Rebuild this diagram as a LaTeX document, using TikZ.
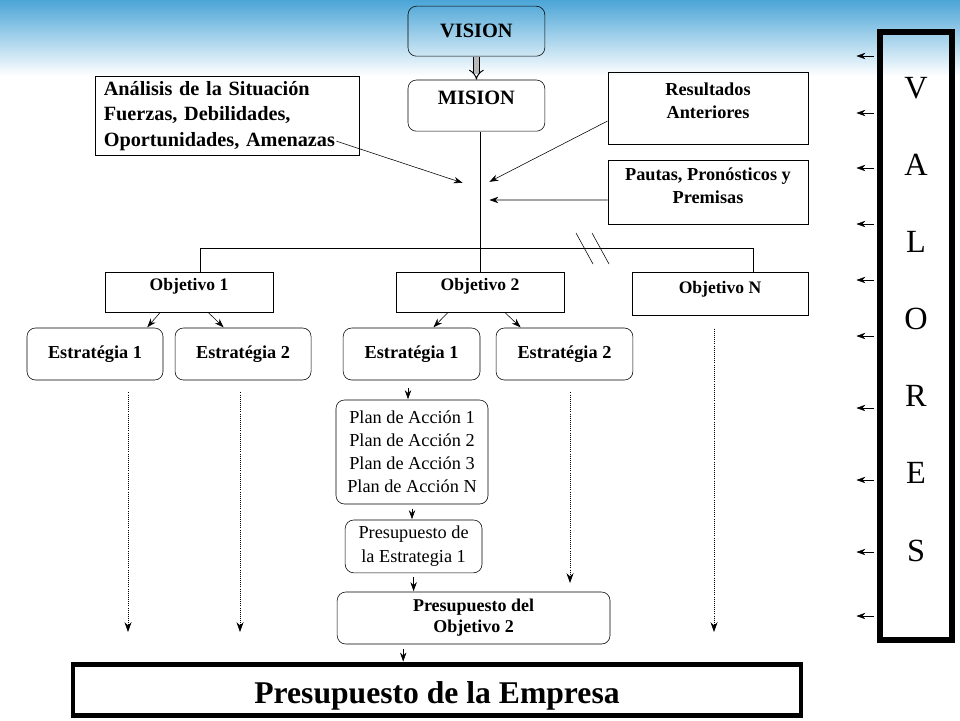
\documentclass[tikz,border=0pt]{standalone}
\usepackage{fontspec}
\setmainfont{Liberation Serif}
\usetikzlibrary{arrows.meta, positioning}
\definecolor{skytop}{RGB}{75,165,215}
\definecolor{skymid}{RGB}{178,216,238}

\begin{document}
\begin{tikzpicture}
	\tikzset{>={Stealth[length=7pt,width=5pt]}, line width=0.6pt,
		box/.style={draw, rectangle, align=center, font=\bfseries\fontsize{13}{16.3}\selectfont},
		rbox/.style={box, rounded corners=6pt},
		tpos/.style 2 args={inner ysep=0pt, text height=#1, text depth=#2},
		obj/.style={box, minimum width=4.2cm, minimum height=1cm, tpos={0.45cm}{0.55cm}, font=\bfseries\fontsize{12.5}{15}\selectfont},
		estr/.style={rbox, minimum width=3.4cm, minimum height=1.3cm},
		dots/.style={->, densely dotted, line width=0.5pt},
		plain/.style={font=\fontsize{13}{16.3}\selectfont}}

	\shade[top color=skytop, middle color=skymid, bottom color=white] (0,0) rectangle (24,-1.9);
	\useasboundingbox (0,0) rectangle (24,-18);

	\node[rbox, minimum width=3.42cm, minimum height=1.25cm, font=\bfseries\fontsize{14.5}{17}\selectfont] (vision) at (11.91,-0.78) {VISION};
	\node[rbox, minimum width=3.42cm, minimum height=1.28cm, tpos={0.6cm}{0.68cm}, font=\bfseries\fontsize{14.5}{17}\selectfont] (mision) at (11.91,-2.64) {MISION};
	\node[box, minimum width=6.6cm, minimum height=1.8cm, text width=6.16cm, align=left, font=\bfseries\fontsize{14.4}{18.4}\selectfont] (analisis) at (5.675,-2.9) {Análisis de la Situación\\Fuerzas, Debilidades,\\Oportunidades, Amenazas};
	\node[box, minimum width=5cm, minimum height=1.8cm, tpos={1.15cm}{0.65cm}] (resultados) at (17.7,-2.7) {Resultados\\Anteriores};
	\node[box, minimum width=5cm, minimum height=1.6cm, tpos={1.075cm}{0.525cm}] (pautas) at (17.7,-4.8) {Pautas, Pronósticos y\\Premisas};

	\node[obj] (obj1) at (4.725,-7.3) {Objetivo 1};
	\node[obj] (obj2) at (12,-7.3) {Objetivo 2};
	\node[obj, minimum width=4.4cm, minimum height=1.075cm, tpos={0.525cm}{0.55cm}] (objN) at (18,-7.34) {Objetivo N};

	\node[estr] (est1a) at (2.375,-8.85) {Estratégia 1};
	\node[estr, right=0.28cm of est1a] (est2a) {Estratégia 2};
	\node[estr, minimum width=3.42cm] (est1b) at (10.29,-8.85) {Estratégia 1};
	\node[estr, minimum width=3.42cm, right=0.38cm of est1b] (est2b) {Estratégia 2};

	\node[rbox, plain, minimum width=3.8cm, minimum height=2.6cm] (plan) at (10.3,-11.3) {Plan de Acción 1\\Plan de Acción 2\\Plan de Acción 3\\Plan de Acción N};
	\node[rbox, font=\fontsize{13}{17}\selectfont, minimum width=3.42cm, minimum height=1.32cm] (presest) at (10.34,-13.66) {Presupuesto de\\la Estrategia 1};
	\node[rbox, font=\bfseries\fontsize{12.8}{15}\selectfont, minimum width=6.82cm, minimum height=1.3cm] (presobj) at (11.84,-15.45) {Presupuesto del\\Objetivo 2};
	\node[draw, line width=3.5pt, minimum width=18.2cm, minimum height=1.28cm, tpos={0.97cm}{0.31cm}, font=\bfseries\fontsize{22.5}{26}\selectfont] (empresa) at (10.925,-17.25) {Presupuesto de la Empresa};
	\node[draw, line width=4.25pt, minimum width=1.8cm, minimum height=15.2cm, align=center, tpos={13.225cm}{1.975cm}, font=\fontsize{23}{54.8}\selectfont] (valores) at (22.9,-8.4) {V\\A\\L\\O\\R\\E\\S};

	% free ends
	\coordinate (inA) at (11.575,-4.575);
	\coordinate (inR) at (12.225,-4.55);
	\coordinate (inP) at (12.225,-5.0);
	\coordinate (b1) at (5.0,-6.2);
	\coordinate (bN) at (18.825,-6.2);
	\coordinate (d1) at (3.2,-15.8);
	\coordinate (d2) at (6.0,-15.8);
	\coordinate (d3) at (14.25,-14.575);
	\coordinate (d4) at (17.85,-15.8);

	\draw[draw=black, double=gray!55, double distance=3pt, line width=0.7pt, -{Implies}] (vision) -- (mision);
	\draw[->] ([xshift=-0.575cm,yshift=0.375cm]analisis.south east) -- (inA);
	\draw[->] ([yshift=-0.325cm]resultados.west) -- (inR);
	\draw[->] ([yshift=-0.2cm]pautas.west) -- (inP);

	\draw (mision.south -| obj2.north) -- (obj2.north);
	\draw (b1 |- obj1.north) -- (b1) -- (bN) -- (bN |- objN.north);
	\draw (14.4,-5.825) -- (14.825,-6.6);
	\draw (14.8,-5.825) -- (15.225,-6.6);

	\draw[->] ([xshift=-0.72cm]obj1.south) -- ([xshift=1.3cm]est1a.north);
	\draw[->] ([xshift=0.48cm]obj1.south) -- ([xshift=-0.48cm]est2a.north);
	\draw[->] ([xshift=-0.8cm]obj2.south) -- ([xshift=0.54cm]est1b.north);
	\draw[->] ([xshift=0.62cm]obj2.south) -- ([xshift=-1.09cm]est2b.north);

	\draw[->, shorten <=0.2cm] ([xshift=-0.09cm]est1b.south) -- ([xshift=-0.1cm]plan.north);
	\draw[->, shorten <=3pt] (plan.south) -- (plan.south |- presest.north);
	\draw[->, shorten <=3pt] (presest.south) -- (presest.south |- presobj.north);
	\draw[->, shorten <=3pt] ([xshift=-1.76cm]presobj.south) -- ([xshift=-1.76cm]presobj.south |- empresa.north);

	\draw[dots, shorten <=0.3cm] (est1a.south -| d1) -- (d1);
	\draw[dots, shorten <=0.3cm] (est2a.south -| d2) -- (d2);
	\draw[dots, shorten <=0.3cm] (est2b.south -| d3) -- (d3);
	\draw[dots, shorten <=0.33cm] (objN.south -| d4) -- (d4);

	\foreach \y in {1.4,2.825,4.2,5.6,7.0,8.4,10.2,12.0,13.8,15.4} {
		\coordinate (vt) at (21.4,-\y);
		\draw[->, shorten <=2pt] (valores.west |- vt) -- (vt);
	}
\end{tikzpicture}
\end{document}
